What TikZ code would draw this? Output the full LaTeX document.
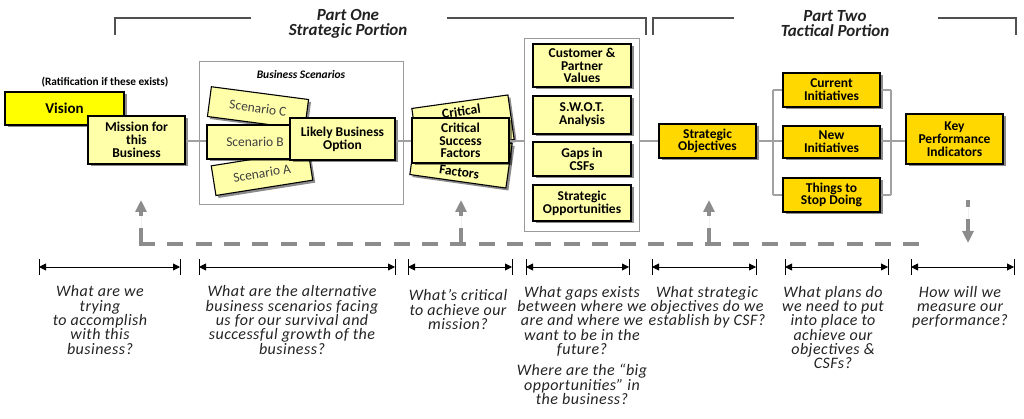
\documentclass[tikz,border=0pt]{standalone}
\usepackage{fontspec}
\setmainfont{Carlito}
\usetikzlibrary{arrows.meta,shadows}
\definecolor{pale}{HTML}{FFFFAA}
\definecolor{gold}{HTML}{FFD800}
\definecolor{vis}{HTML}{FFFF00}
\definecolor{fbgray}{HTML}{8C8C8C}
\definecolor{conngray}{HTML}{A0A0A0}
\definecolor{framegray}{HTML}{9A9A9A}
\definecolor{brk}{HTML}{505050}
\definecolor{qtext}{HTML}{222222}
\tikzset{
  box/.style={draw=black, line width=1.1pt, inner sep=0pt, align=center,
    font=\fontsize{13.5}{12.8}\selectfont\bfseries,
    drop shadow={shadow xshift=2.5pt, shadow yshift=-2.5pt, fill=black, opacity=0.45}},
  palebox/.style={box, fill=pale},
  goldbox/.style={box, fill=gold},
  scencard/.style={palebox, font=\fontsize{13.5}{12.8}\selectfont, text=black!75},
  conn/.style={draw=conngray, line width=1.3pt},
  frame/.style={draw=framegray, line width=1pt},
  brack/.style={draw=brk, line width=1.4pt},
  fb/.style={draw=fbgray, line width=4pt, dash pattern=on 16pt off 12.3pt},
  fbarrow/.style={fb, -{Triangle[length=12pt,width=11pt]}, fill=fbgray},
  dimline/.style={line width=0.9pt, {Triangle[length=7pt,width=7pt]}-{Triangle[length=7pt,width=7pt]}},
  dimbar/.style={line width=1pt},
  quest/.style={font=\fontsize{16}{14.3}\selectfont\itshape\addfontfeature{LetterSpace=3}, text=qtext, align=center, anchor=north, inner sep=0pt},
  parthead/.style={font=\fontsize{17}{15}\selectfont\bfseries\itshape, text=qtext, align=center, inner sep=0pt},
}
\begin{document}
\begin{tikzpicture}[x=1pt,y=-1pt]
\useasboundingbox (0,0) rectangle (1024,419);

% ---- top brackets
\node[parthead] (p1) at (348,23.5) {Part One\\Strategic Portion};
\node[parthead] (p2) at (835,23.5) {Part Two\\Tactical Portion};
\draw[brack] (115,35) -- (115,18) -- (251,18);
\draw[brack] (447,18) -- (646,18) -- (646,35);
\draw[brack] (653,35) -- (653,18) -- (734,18);
\draw[brack] (938,18) -- (1016,18) -- (1016,35);

% ---- frames
\draw[frame] (199,62) rectangle (403,205);
\coordinate (scenW) at (199,141);
\node[font=\fontsize{11.5}{12}\selectfont\bfseries\itshape, inner sep=0pt] (bstitle) at (301,75) {Business Scenarios};
\draw[frame] (524,39) rectangle (639,232);
\coordinate (colW) at (524,141);
\coordinate (colE) at (639,141);

\coordinate (lb) at (773,141);
\coordinate (rb) at (891,141);

% ---- left part
\node[font=\fontsize{11.3}{12}\selectfont\bfseries, inner sep=0pt] (rat) at (105,82) {(Ratification if these exists)};
\node[box, fill=vis, minimum width=119pt, minimum height=33pt, font=\fontsize{15}{15}\selectfont\bfseries] (vision) at (64.5,108.5) {Vision};
\node[palebox, minimum width=97pt, minimum height=48pt] (mission) at (136.5,140) {Mission for\\this\\Business};

% ---- scenarios
\node[scencard, minimum width=98pt, minimum height=30pt, rotate=-7.5] (scenC) at (258,108) {Scenario C};
\node[scencard, minimum width=98pt, minimum height=30pt, rotate=9] (scenA) at (262,173) {Scenario A};
\node[scencard, minimum width=96pt, minimum height=34pt] (scenB) at (255,142) {Scenario B};
\node[palebox, minimum width=105pt, minimum height=42pt] (likely) at (342.5,139) {Likely Business\\Option};

% ---- CSF stack
\node[palebox, minimum width=97pt, minimum height=45pt, rotate=8] (csfT) at (463,124) {Critical\\\phantom{Success}\\\phantom{Factors}};
\node[palebox, minimum width=97pt, minimum height=45pt, rotate=-8] (csfB) at (461,159) {\phantom{Critical}\\\phantom{Success}\\Factors};
\node[palebox, minimum width=97pt, minimum height=45pt] (csf) at (460.5,140.5) {Critical\\Success\\Factors};

% ---- column
\node[palebox, minimum width=98pt, minimum height=43pt] (cust) at (582,65.5) {Customer \&\\Partner\\Values};
\node[palebox, minimum width=98pt, minimum height=38pt] (swot) at (582,115) {S.W.O.T.\\Analysis};
\node[palebox, minimum width=98pt, minimum height=34pt] (gaps) at (582,159) {Gaps in\\CSFs};
\node[palebox, minimum width=98pt, minimum height=36pt] (sopp) at (582,203) {Strategic\\Opportunities};

% ---- tactical
\node[goldbox, minimum width=97pt, minimum height=34pt] (sobj) at (707.5,141) {Strategic\\Objectives};
\node[goldbox, minimum width=97pt, minimum height=34pt] (curr) at (831.5,90) {Current\\Initiatives};
\node[goldbox, minimum width=97pt, minimum height=32pt] (newi) at (831.5,142) {New\\Initiatives};
\node[goldbox, minimum width=97pt, minimum height=34pt] (things) at (831.5,195) {Things to\\Stop Doing};
\node[goldbox, minimum width=97pt, minimum height=50pt] (kpi) at (954.5,139) {Key\\Performance\\Indicators};

% ---- connectors
\draw[conn] (mission.east |- scenW) -- (scenW);
\draw[conn] (scenW) -- (scenB.west |- scenW);
\draw[conn] (likely.east |- scenW) -- (csf.west |- scenW);
\draw[conn] (csf.east |- colW) -- (colW);
\draw[conn] (colE) -- (sobj.west |- colE);
\draw[conn] (sobj.east |- lb) -- (lb);
\draw[conn] (curr.west -| lb) -- (things.west -| lb);
\draw[conn] (curr.west -| lb) -- (curr.west);
\draw[conn] (lb) -- (newi.west |- lb);
\draw[conn] (things.west -| lb) -- (things.west);
\draw[conn] (curr.east) -- (curr.east -| rb);
\draw[conn] (things.east) -- (things.east -| rb);
\draw[conn] (curr.east -| rb) -- (things.east -| rb);
\draw[conn] (newi.east |- rb) -- (rb);
\draw[conn] (rb) -- (kpi.west |- rb);

% ---- feedback dashed line
\coordinate (f0) at (139,244);
\coordinate (f1) at (141,244);
\coordinate (f2) at (461,244);
\coordinate (f3) at (709,244);
\coordinate (fe) at (921,244);
\coordinate (a1) at (141,200);
\coordinate (a2) at (461,200);
\coordinate (a3) at (709,200);
\coordinate (k1) at (968,200);
\coordinate (k2) at (968,243);
\draw[fb] (f0) -- (fe);
\draw[fbarrow] (f1) -- (a1);
\draw[fbarrow] (f2) -- (a2);
\draw[fbarrow] (f3) -- (a3);
\draw[fbarrow, dash pattern=on 7pt off 12pt on 40pt] (k1) -- (k2);

% ---- dimension lines
\foreach \i/\l/\r in {1/39/180, 2/199/395, 3/408/512, 4/526/629, 5/652/756, 6/785/888, 7/911/1014}{
  \coordinate (d\i l) at (\l,267);
  \coordinate (d\i r) at (\r,267);
  \draw[dimline] (d\i l) -- (d\i r);
  \draw[dimbar] (\l,259) -- (\l,275);
  \draw[dimbar] (\r,259) -- (\r,275);
}

% ---- questions
\node[quest] (q1) at (100,285.5) {What are we\\trying\\to accomplish\\with this\\business?};
\node[quest] (q2) at (292,285.5) {What are the alternative\\business scenarios facing\\us for our survival and\\successful growth of the\\business?};
\node[quest] (q3) at (458,289.5) {What’s critical\\to achieve our\\mission?};
\node[quest] (q4) at (582,286) {What gaps exists\\between where we\\are and where we\\want to be in the\\future?};
\node[quest] (q4b) at (582,364) {Where are the “big\\opportunities” in\\the business?};
\node[quest] (q5) at (707,286) {What strategic\\objectives do we\\establish by CSF?};
\node[quest] (q6) at (833,286) {What plans do\\we need to put\\into place to\\achieve our\\objectives \&\\CSFs?};
\node[quest] (q7) at (960,286) {How will we\\measure our\\performance?};
\end{tikzpicture}
\end{document}
